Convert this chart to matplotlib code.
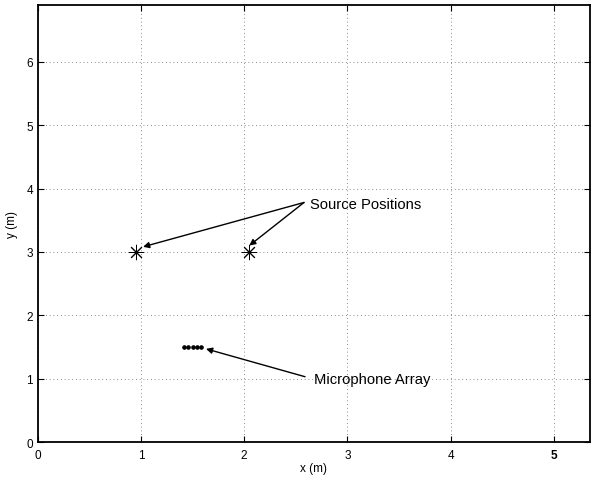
import matplotlib
matplotlib.use("Agg")
import matplotlib.pyplot as plt

# source and microphone positions (m)
src_x = [0.95, 2.05]
src_y = [3.0, 3.0]
mic_x = [1.42, 1.46, 1.50, 1.54, 1.58]
mic_y = [1.5, 1.5, 1.5, 1.5, 1.5]

xticks = [0, 1, 2, 3, 4, 5]
yticks = [0, 1, 2, 3, 4, 5, 6]
xlim = (0, 5.35)
ylim = (0, 6.9)

plt.rcParams['font.family'] = ['Liberation Sans', 'DejaVu Sans']

fig = plt.figure(figsize=(5.91, 4.81), dpi=100)
ax = fig.add_axes([0.064, 0.079, 0.934, 0.909])

ax.plot(src_x, src_y, linestyle='none', marker=(8, 2, 0), markersize=11,
        markeredgewidth=0.7, color='black')
ax.plot(mic_x, mic_y, linestyle='none', marker='o', markersize=2.3,
        color='black')

arrow = dict(arrowstyle='-|>', color='black', lw=1.0, mutation_scale=9,
             shrinkA=0, shrinkB=0)
ax.annotate('', xy=(1.02, 3.08), xytext=(2.58, 3.78), arrowprops=arrow)
ax.annotate('', xy=(2.05, 3.10), xytext=(2.58, 3.78), arrowprops=arrow)
ax.annotate('', xy=(1.63, 1.47), xytext=(2.59, 1.03), arrowprops=arrow)
ax.text(2.64, 3.76, 'Source Positions', fontsize=10.6, va='center', ha='left')
ax.text(2.68, 1.0, 'Microphone Array', fontsize=10.6, va='center', ha='left')

ax.set_xlim(*xlim)
ax.set_ylim(*ylim)
ax.set_xticks(xticks)
ax.set_yticks(yticks)
ax.tick_params(direction='in', top=True, right=True, labelsize=8.5, length=4,
               width=0.8)
ax.tick_params(axis='x', pad=5)
for lab in ax.get_xticklabels():
    if lab.get_text() == '5':
        lab.set_fontweight('bold')
ax.grid(True, linestyle=(0, (1, 3.5)), color='#666666', linewidth=0.6)
for s in ax.spines.values():
    s.set_linewidth(1.3)
ax.set_xlabel('x (m)', fontsize=8.5, labelpad=1)
ax.set_ylabel('y (m)', fontsize=8.5, labelpad=6)

fig.savefig('out.png', dpi=100)
